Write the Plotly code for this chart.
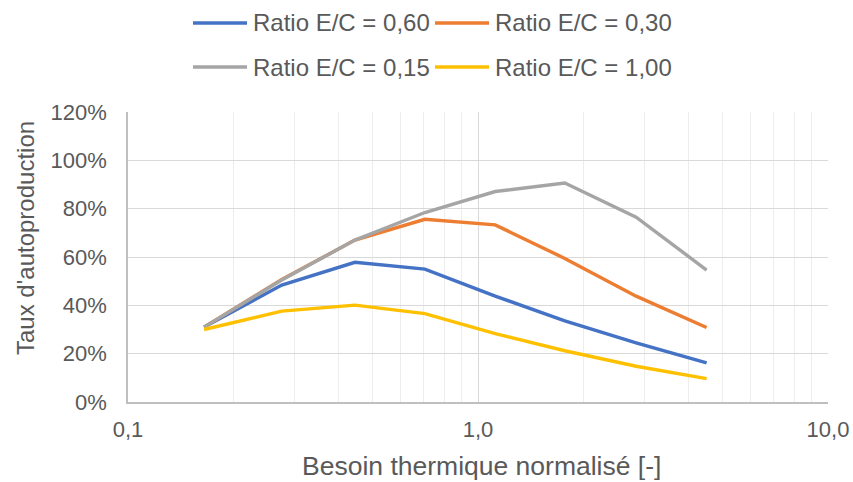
import plotly.graph_objects as go

# Besoin thermique normalisé [-]
besoin = [0.165, 0.275, 0.445, 0.705, 1.12, 1.77, 2.83, 4.5]

ratio_060 = [0.31, 0.484, 0.578, 0.55, 0.438, 0.336, 0.245, 0.162]
ratio_030 = [0.31, 0.507, 0.67, 0.756, 0.733, 0.594, 0.438, 0.308]
ratio_015 = [0.31, 0.505, 0.67, 0.784, 0.871, 0.906, 0.765, 0.546]
ratio_100 = [0.30, 0.376, 0.401, 0.366, 0.283, 0.212, 0.148, 0.097]

names = ["Ratio E/C = 0,60", "Ratio E/C = 0,30", "Ratio E/C = 0,15", "Ratio E/C = 1,00"]
values = [ratio_060, ratio_030, ratio_015, ratio_100]
colors = ["#4472C4", "#ED7D31", "#A5A5A5", "#FFC000"]

x_ticks = [0.1, 1, 10]
x_labels = ["0,1", "1,0", "10,0"]
y_ticks = [0, 0.2, 0.4, 0.6, 0.8, 1.0, 1.2]
y_labels = ["0%", "20%", "40%", "60%", "80%", "100%", "120%"]

txt = "#595959"
font = "Liberation Sans, Arial, sans-serif"

# plot area in pixels, used to place the legend keys in paper coords
L, R, T, B = 128, 828, 112, 402
def px(x): return (x - L) / (R - L)
def py(y): return (B - y) / (B - T)

fig = go.Figure()
for name, vals, col in zip(names, values, colors):
    fig.add_trace(go.Scatter(x=besoin, y=vals, name=name, mode="lines",
                             line=dict(color=col, width=3.4), showlegend=False))

# legend, 2 x 2 like the excel one
leg_pos = [(193, 23), (435, 23), (193, 67), (435, 67)]
shapes, annots = [], []
for (lx, ly), name, col in zip(leg_pos, names, colors):
    shapes.append(dict(type="line", xref="paper", yref="paper",
                       x0=px(lx), x1=px(lx + 54), y0=py(ly), y1=py(ly),
                       line=dict(color=col, width=3.4)))
    annots.append(dict(text=name, xref="paper", yref="paper", x=px(lx + 58), y=py(ly),
                       xanchor="left", yanchor="middle", showarrow=False,
                       font=dict(family=font, size=24, color=txt)))

annots.append(dict(text="Besoin thermique normalisé [-]", xref="paper", yref="paper",
                   x=px(481), y=py(466), xanchor="center", yanchor="middle", showarrow=False,
                   font=dict(family=font, size=26.5, color=txt)))
annots.append(dict(text="Taux d'autoproduction", xref="paper", yref="paper",
                   x=px(25), y=py(238), xanchor="center", yanchor="middle", showarrow=False,
                   textangle=-90, font=dict(family=font, size=24, color=txt)))

fig.update_layout(
    width=853, height=482,
    margin=dict(l=L, r=853 - R, t=T, b=482 - B),
    plot_bgcolor="white", paper_bgcolor="white",
    font=dict(family=font, color=txt),
    shapes=shapes, annotations=annots,
    xaxis=dict(
        type="log", range=[-1, 1], automargin=False,
        tickvals=x_ticks, ticktext=x_labels,
        tickfont=dict(size=22, color=txt), ticklabelstandoff=7,
        showgrid=True, gridcolor="#d9d9d9", gridwidth=1.3,
        minor=dict(showgrid=True, gridcolor="#ededed", gridwidth=1.3, dtick="D1"),
        showline=True, linecolor="#bfbfbf", linewidth=1.5,
        ticks="", zeroline=False,
    ),
    yaxis=dict(
        range=[0, 1.2], automargin=False,
        tickvals=y_ticks, ticktext=y_labels,
        tickfont=dict(size=22, color=txt), ticklabelstandoff=15,
        showgrid=True, gridcolor="#d9d9d9", gridwidth=1.3,
        showline=True, linecolor="#bfbfbf", linewidth=1.5,
        ticks="", zeroline=False,
    ),
)

# body has an 8px default margin (and then a scrollbar), drop both
fig.write_html("out.html",
               config={"displayModeBar": False, "responsive": False},
               post_script="document.body.style.margin='0px';"
                           "document.body.style.overflow='hidden';")
